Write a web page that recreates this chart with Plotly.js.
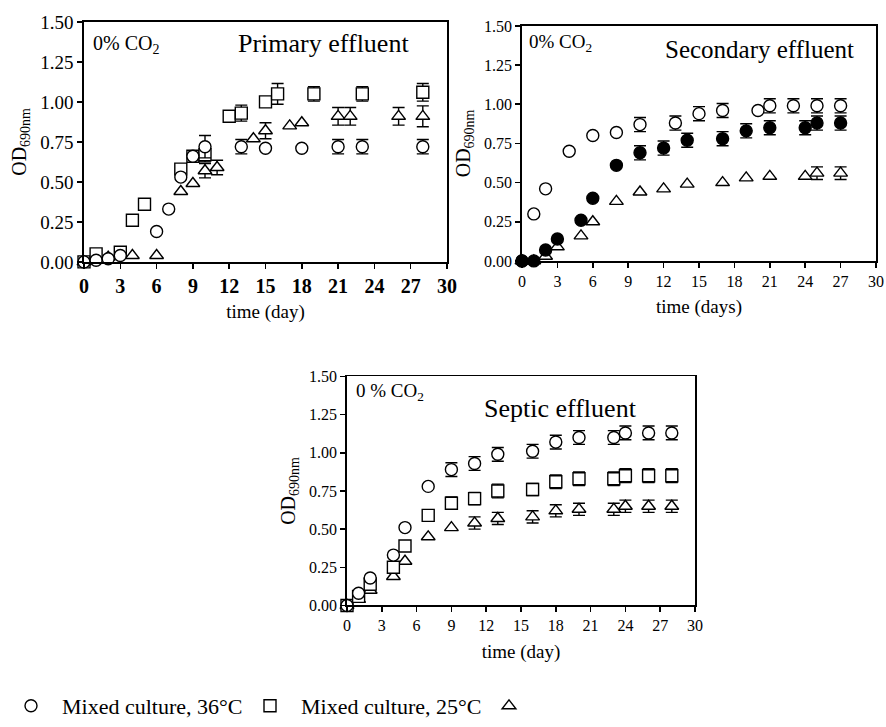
<!DOCTYPE html>
<html>
<head>
<meta charset="utf-8">
<script src="https://cdn.plot.ly/plotly-3.0.1.min.js"></script>
<style>html,body{margin:0;padding:0;background:#fff;}#chart{width:886px;height:727px;}</style>
</head>
<body>
<div id="chart"></div>
<script>
// ---- Primary effluent ----
const days1C = [0,1,2,3,6,7,8,9,10,13,15,18,21,23,28];
const od1C   = [0,0.01,0.02,0.04,0.19,0.33,0.53,0.66,0.72,0.72,0.71,0.71,0.72,0.72,0.72];
const err1C  = [0,0,0,0,0,0,0,0,0.07,0.045,0,0,0.045,0.045,0.045];
const days1S = [0,1,3,4,5,8,9,10,12,13,15,16,19,23,28];
const od1S   = [0,0.05,0.06,0.26,0.36,0.58,0.66,0.67,0.91,0.93,1.00,1.05,1.05,1.05,1.06];
const err1S  = [0,0,0,0,0,0,0,0.045,0,0.05,0,0.065,0.045,0.045,0.055];
const days1T = [0,1,2,4,6,8,9,10,11,14,15,17,18,21,22,26,28];
const od1T   = [0,0.04,0.03,0.04,0.04,0.44,0.49,0.57,0.59,0.77,0.82,0.85,0.87,0.91,0.91,0.91,0.91];
const err1T  = [0,0,0,0,0,0,0,0.045,0.045,0,0.05,0,0,0.055,0.055,0.055,0.065];
// ---- Secondary effluent ----
const days2O = [0,1,2,4,6,8,10,13,15,17,20,21,23,25,27];
const od2O   = [0,0.30,0.46,0.70,0.80,0.82,0.87,0.88,0.94,0.96,0.96,0.99,0.99,0.99,0.99];
const err2O  = [0,0,0,0,0,0,0.045,0.045,0.045,0.045,0,0.045,0.045,0.045,0.045];
const days2F = [0,1,2,3,5,6,8,10,12,14,17,19,21,24,25,27];
const od2F   = [0,0,0.07,0.14,0.26,0.40,0.61,0.69,0.72,0.77,0.78,0.83,0.85,0.85,0.88,0.88];
const err2F  = [0,0,0,0,0,0,0,0.045,0.045,0.045,0.045,0.045,0.045,0.045,0.045,0.045];
const days2T = [0,1,2,3,5,6,8,10,12,14,17,19,21,24,25,27];
const od2T   = [0,0,0.03,0.09,0.16,0.25,0.38,0.44,0.46,0.49,0.50,0.53,0.54,0.54,0.56,0.56];
const err2T  = [0,0,0,0,0,0,0,0,0,0,0,0,0,0,0.04,0.04];
// ---- Septic effluent ----
const days3  = [0,1,2,4,5,7,9,11,13,16,18,20,23,24,26,28];
const od3C   = [0,0.08,0.18,0.33,0.51,0.78,0.89,0.93,0.99,1.01,1.07,1.10,1.10,1.13,1.13,1.13];
const err3C  = [0,0,0,0,0,0,0.045,0.045,0.045,0.045,0.045,0.045,0.045,0.045,0.045,0.045];
const od3S   = [0,0.06,0.14,0.25,0.39,0.59,0.67,0.70,0.75,0.76,0.81,0.83,0.83,0.85,0.85,0.85];
const err3S  = [0,0,0.04,0,0,0,0.04,0.04,0.045,0.04,0.045,0.045,0.045,0.045,0.045,0.045];
const od3T   = [0,0.04,0.10,0.19,0.29,0.45,0.51,0.54,0.57,0.58,0.62,0.63,0.63,0.65,0.65,0.65];
const err3T  = [0,0,0,0,0,0,0,0.04,0.04,0.04,0.04,0.04,0.04,0.04,0.04,0.04];

const legendNames = ["Mixed culture, 36°C", "Mixed culture, 25°C", " "];

const W = 886, H = 727;
const px = v => v / W;
const py = v => 1 - v / H;
const FONT = "Liberation Serif, Times New Roman, serif";

function err(a){ return {type:'data', array:a.map(v => v > 0 ? v : NaN), visible:true, color:'#000', thickness:1.4, width:6}; }
function mk(symbol, filled){ return {symbol:symbol, size:12, color: filled ? '#000' : '#fff', line:{color:'#000', width:1.4}}; }
function tr(x, y, e, symbol, filled, xa, ya, name, show){
  return {x:x, y:y, error_y:err(e), type:'scatter', mode:'markers', marker:mk(symbol, filled),
          xaxis:xa, yaxis:ya, name:name, showlegend:show, legendgroup:symbol, cliponaxis:false, hoverinfo:'skip'};
}

const data = [
  tr(days1T, od1T, err1T, 'triangle-up', false, 'x', 'y', legendNames[2], false),
  tr(days1S, od1S, err1S, 'square', false, 'x', 'y', legendNames[1], false),
  tr(days1C, od1C, err1C, 'circle', false, 'x', 'y', legendNames[0], true),
  tr(days2T, od2T, err2T, 'triangle-up', false, 'x2', 'y2', legendNames[2], false),
  tr(days2O, od2O, err2O, 'circle', false, 'x2', 'y2', legendNames[0], false),
  tr(days2F, od2F, err2F, 'circle', true, 'x2', 'y2', 'filled', false),
  tr(days3, od3T, err3T, 'triangle-up', false, 'x3', 'y3', legendNames[2], true),
  tr(days3, od3S, err3S, 'square', false, 'x3', 'y3', legendNames[1], true),
  tr(days3, od3C, err3C, 'circle', false, 'x3', 'y3', legendNames[0], false),
];
// legend order: circle, square, triangle
data[2].legendrank = 1; data[7].legendrank = 2; data[6].legendrank = 3;

function xax(domain, anchor, tf, title, std){
  return {domain:domain, anchor:anchor, range:[0,30], dtick:3, tick0:0, ticks:'outside', ticklen:5, tickwidth:1.5,
    tickcolor:'#000', showline:true, linecolor:'#000', linewidth:1.8, mirror:true, showgrid:false, zeroline:false,
    tickfont:tf, title:{text:title, font:{family:FONT, size:19, color:'#000'}, standoff:std}, automargin:false};
}
function yax(domain, anchor, tf, std){
  return {domain:domain, anchor:anchor, range:[0,1.5], dtick:0.25, tick0:0, tickformat:'.2f', ticks:'outside', ticklen:5, tickwidth:1.5,
    tickcolor:'#000', showline:true, linecolor:'#000', linewidth:1.8, mirror:true, showgrid:false, zeroline:false,
    tickfont:tf, title:{text:'OD<sub>690nm</sub>', font:{family:FONT, size:20, color:'#000'}, standoff:std}, automargin:false};
}

const tf1y = {family:FONT, size:19, color:'#000'};
const tf1x = {family:FONT, size:20, color:'#000', weight:'bold'};
const tf2 = {family:FONT, size:16, color:'#000'};

function ann(text, x, y, size){
  return {text:text, x:px(x), y:py(y), xref:'paper', yref:'paper', xanchor:'left', yanchor:'middle', showarrow:false,
    font:{family:FONT, size:size, color:'#000'}};
}

const layout = {
  width:W, height:H, margin:{l:0,r:0,t:0,b:0}, paper_bgcolor:'#fff', plot_bgcolor:'#fff',
  font:{family:FONT, color:'#000'},
  xaxis: xax([px(84), px(447)], 'y', tf1x, 'time (day)', 9),
  yaxis: yax([py(263), py(22)], 'x', tf1y, 8),
  xaxis2: xax([px(522), px(876)], 'y2', tf2, 'time (days)', 11),
  yaxis2: yax([py(262), py(26)], 'x2', tf2, 8),
  xaxis3: xax([px(347), px(695)], 'y3', tf2, 'time (day)', 11),
  yaxis3: yax([py(608), py(378)], 'x3', tf2, 8),
  annotations:[
    ann('0% CO<sub>2</sub>', 91, 45, 20),
    ann('Primary effluent', 236, 44, 26),
    ann('0% CO<sub>2</sub>', 527, 43, 19),
    ann('Secondary effluent', 663, 50, 25),
    ann('0 % CO<sub>2</sub>', 354, 394, 19),
    ann('Septic effluent', 482, 410, 26),
  ],
  showlegend:true,
  legend:{orientation:'h', x:px(0), xanchor:'left', y:py(709), yanchor:'middle', font:{family:FONT, size:22, color:'#000'},
    traceorder:'normal', itemwidth:52, entrywidth:172, entrywidthmode:'pixels', bgcolor:'rgba(0,0,0,0)'}
};

Plotly.newPlot('chart', data, layout, {displayModeBar:false, staticPlot:true});
</script>
</body>
</html>
